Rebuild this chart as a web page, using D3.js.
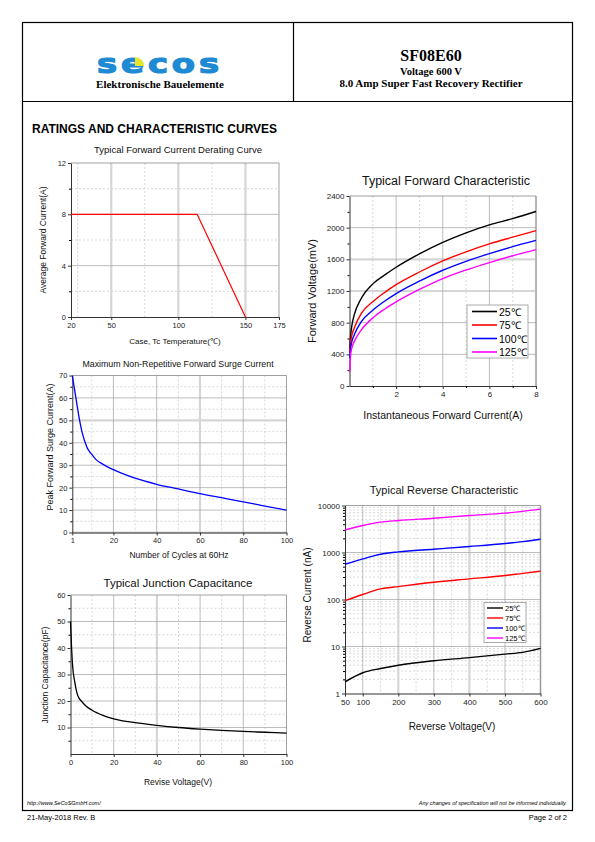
<!DOCTYPE html>
<html><head><meta charset="utf-8">
<script src="https://d3js.org/d3.v7.min.js"></script>
<style>
body{margin:0;background:#fff;}
svg text{font-family:"Liberation Sans",Arial,sans-serif;}
</style></head>
<body><svg id="page" width="595" height="842"></svg>
<script>
// ---------- DATA ----------
// Chart 1: derating curve
const deratingTemp = [20, 114, 150];
const deratingCurrent = [8, 8, 0];
const deratingXTicks = [20, 50, 100, 150, 175];
const deratingYTicks = [0, 4, 8, 12];

// Chart 2: forward characteristic
const fwdCurrent = [0.01, 0.05, 0.1, 0.2, 0.5, 1, 1.5, 2, 3, 4, 5, 6, 7, 8];
const fwdV25  = [470, 640, 760, 895, 1105, 1290, 1400, 1500, 1670, 1815, 1935, 2035, 2115, 2205];
const fwdV75  = [420, 560, 640, 730, 915, 1065, 1180, 1280, 1440, 1580, 1695, 1795, 1880, 1962];
const fwdV100 = [350, 480, 560, 645, 810, 958, 1070, 1168, 1325, 1462, 1575, 1672, 1760, 1840];
const fwdV125 = [180, 400, 480, 560, 706, 860, 970, 1063, 1220, 1357, 1465, 1559, 1645, 1723];
const fwdXTicks = [2, 4, 6, 8];
const fwdYTicks = [0, 400, 800, 1200, 1600, 2000, 2400];
const tempLabels = ["25\u2103", "75\u2103", "100\u2103", "125\u2103"];
const tempColors = ["#000000", "#ff0000", "#0000ff", "#ff00ff"];

// Chart 3: surge current
const surgeCycles = [1, 2, 3, 4, 5, 6, 7, 8, 9, 10, 12, 15, 20, 30, 40, 50, 60, 70, 80, 90, 100];
const surgeCurrent = [70, 64, 58, 52, 47, 43, 40, 37.5, 36, 34.8, 32.5, 30.5, 28, 24.2, 21.5, 19.4, 17.3, 15.5, 13.7, 11.8, 10];
const surgeXTicks = [1, 20, 40, 60, 80, 100];
const surgeYTicks = [0, 10, 20, 30, 40, 50, 60, 70];

// Chart 4: junction capacitance
const capVoltage = [0, 0.5, 1, 2, 3, 4, 5, 7, 10, 15, 20, 30, 40, 50, 60, 70, 80, 90, 100];
const capValue = [50, 40, 33, 27, 23, 21, 20, 18.2, 16.5, 14.6, 13.3, 11.8, 10.8, 10, 9.4, 8.9, 8.5, 8.2, 7.9];
const capXTicks = [0, 20, 40, 60, 80, 100];
const capYTicks = [10, 20, 30, 40, 50, 60];

// Chart 5: reverse characteristic
const revVoltage = [50, 100, 150, 200, 300, 400, 500, 550, 600];
const rev25  = [1.77, 2.76, 3.4, 4.0, 4.97, 5.8, 6.9, 7.5, 9.1];
const rev75  = [95, 128, 168, 188, 233, 274, 323, 360, 399];
const rev100 = [563, 731, 920, 1031, 1175, 1341, 1550, 1700, 1919];
const rev125 = [3040, 3760, 4427, 4790, 5370, 6130, 6880, 7500, 8380];
const revXTicks = [50, 100, 200, 300, 400, 500, 600];
const revYTicks = [1, 10, 100, 1000, 10000];

// ---------- PAGE ----------
const svg = d3.select("#page");
const frame = svg.append("g");
frame.append("rect").attr("x", 22.5).attr("y", 22.5).attr("width", 550).attr("height", 788)
  .attr("fill", "none").attr("stroke", "#000").attr("stroke-width", 1.2);
frame.append("line").attr("x1", 22.5).attr("x2", 572.5).attr("y1", 101.5).attr("y2", 101.5).attr("stroke", "#000").attr("stroke-width", 1.2);
frame.append("line").attr("x1", 293.5).attr("x2", 293.5).attr("y1", 22.5).attr("y2", 101.5).attr("stroke", "#000").attr("stroke-width", 1.2);

// logo
const logo = svg.append("g");
logo.append("text").attr("x", 0).attr("y", 0).attr("text-anchor", "middle")
  .attr("transform", "translate(160,73) scale(1.3,1)")
  .style("font-family", "'DejaVu Sans',sans-serif").style("font-weight", "bold")
  .style("font-size", "26px").style("letter-spacing", "3px")
  .attr("fill", "#1f8ad4").attr("stroke", "#1f8ad4").attr("stroke-width", 1.2).text("secos");
logo.append("path").attr("d", "M135,66 L135,57 A9,9 0 0 1 144,66 Z").attr("fill", "#e6e62a");
logo.append("text").attr("x", 160).attr("y", 88).attr("text-anchor", "middle")
  .style("font-family", "'Liberation Serif',serif").style("font-weight", "bold").style("font-size", "11px")
  .text("Elektronische Bauelemente");

const serif = "'Liberation Serif','Times New Roman',serif";
svg.append("text").attr("x", 431).attr("y", 61).attr("text-anchor", "middle").style("font-family", serif)
  .style("font-weight", "bold").style("font-size", "16px").text("SF08E60");
svg.append("text").attr("x", 431).attr("y", 75).attr("text-anchor", "middle").style("font-family", serif)
  .style("font-weight", "bold").style("font-size", "10.5px").text("Voltage 600 V");
svg.append("text").attr("x", 431).attr("y", 87).attr("text-anchor", "middle").style("font-family", serif)
  .style("font-weight", "bold").style("font-size", "11px").text("8.0 Amp Super Fast Recovery Rectifier");

svg.append("text").attr("x", 32).attr("y", 133).style("font-weight", "bold").style("font-size", "12px")
  .text("RATINGS AND CHARACTERISTIC CURVES");

// footer
svg.append("text").attr("x", 27).attr("y", 805).style("font-style", "italic").style("font-size", "5.5px").text("http://www.SeCoSGmbH.com/");
svg.append("text").attr("x", 567).attr("y", 805).attr("text-anchor", "end").style("font-style", "italic").style("font-size", "5.5px")
  .text("Any changes of specification will not be informed individually.");
svg.append("text").attr("x", 27).attr("y", 820).style("font-size", "7.5px").text("21-May-2018 Rev. B");
svg.append("text").attr("x", 567).attr("y", 820).attr("text-anchor", "end").style("font-size", "7.5px").text("Page  2  of  2");

// ---------- CHART HELPER ----------
function chart(c) {
  const g = svg.append("g");
  const x = c.x, y = c.y;
  const [L, R] = x.range(), [B, T] = y.range();
  (c.xMinor || []).forEach(v => g.append("line").attr("x1", x(v)).attr("x2", x(v)).attr("y1", T).attr("y2", B)
    .attr("stroke", "#c8c8c8").attr("stroke-width", 0.7).attr("stroke-dasharray", "2,2"));
  (c.yMinor || []).forEach(v => g.append("line").attr("x1", L).attr("x2", R).attr("y1", y(v)).attr("y2", y(v))
    .attr("stroke", "#c8c8c8").attr("stroke-width", 0.7).attr("stroke-dasharray", "2,2"));
  (c.xThick || []).forEach(v => g.append("line").attr("x1", x(v)).attr("x2", x(v)).attr("y1", T).attr("y2", B)
    .attr("stroke", "#d6d6d6").attr("stroke-width", 2.2));
  (c.yThick || []).forEach(v => g.append("line").attr("x1", L).attr("x2", R).attr("y1", y(v)).attr("y2", y(v))
    .attr("stroke", "#d6d6d6").attr("stroke-width", 2.2));
  (c.xMajor || []).forEach(v => g.append("line").attr("x1", x(v)).attr("x2", x(v)).attr("y1", T).attr("y2", B)
    .attr("stroke", "#a0a0a0").attr("stroke-width", 0.7));
  (c.yMajor || []).forEach(v => g.append("line").attr("x1", L).attr("x2", R).attr("y1", y(v)).attr("y2", y(v))
    .attr("stroke", "#a0a0a0").attr("stroke-width", 0.7));
  g.append("line").attr("x1", L).attr("x2", R).attr("y1", T).attr("y2", T).attr("stroke", "#888").attr("stroke-width", 0.8);
  g.append("line").attr("x1", R).attr("x2", R).attr("y1", T).attr("y2", B).attr("stroke", "#888").attr("stroke-width", 0.8);

  const fmt = c.fmt || (d => d);
  const xa = g.append("g").attr("transform", `translate(0,${B})`)
    .call(d3.axisBottom(x).tickValues(c.xTicks).tickSize(3).tickSizeOuter(0).tickFormat(fmt));
  const ya = g.append("g").attr("transform", `translate(${L},0)`)
    .call(d3.axisLeft(y).tickValues(c.yTicks).tickSize(3).tickSizeOuter(0).tickFormat(fmt));
  if (c.yMinorTicks) g.append("g").attr("transform", `translate(${L},0)`)
    .call(d3.axisLeft(y).tickValues(c.yMinorTicks).tickSize(2).tickFormat("")).select(".domain").remove();
  if (c.xMinorTicks) g.append("g").attr("transform", `translate(0,${B})`)
    .call(d3.axisBottom(x).tickValues(c.xMinorTicks).tickSize(2).tickFormat("")).select(".domain").remove();
  [xa, ya].forEach(a => {
    a.select(".domain").attr("stroke", "#333").attr("stroke-width", 1);
    a.selectAll(".tick line").attr("stroke", "#333");
    a.selectAll("text").style("font-family", "'Liberation Sans',Arial,sans-serif").style("font-size", c.tickSize + "px").attr("fill", "#222");
  });
  xa.selectAll("text").attr("dy", "0.9em").attr("y", 4);
  ya.selectAll("text").attr("x", -5);

  g.append("text").attr("x", c.titleX).attr("y", c.titleY).attr("text-anchor", "middle")
    .style("font-size", c.titleSize + "px").attr("fill", "#111").text(c.title);
  g.append("text").attr("x", c.xLabelX).attr("y", c.xLabelY).attr("text-anchor", "middle")
    .style("font-size", c.labelSize + "px").attr("fill", "#111").text(c.xLabel);
  g.append("text").attr("transform", `translate(${c.yLabelX},${c.yLabelY}) rotate(-90)`).attr("text-anchor", "middle")
    .style("font-size", (c.yLabelSize || c.labelSize) + "px").attr("fill", "#111").text(c.yLabel);

  c.series.forEach(s => {
    const line = d3.line().x(d => x(d[0])).y(d => y(d[1])).curve(s.curve || d3.curveMonotoneX);
    g.append("path").attr("d", line(d3.zip(s.xs, s.ys))).attr("fill", "none")
      .attr("stroke", s.color).attr("stroke-width", s.width || 1.3);
  });
  return g;
}

const range = (a, b, s) => d3.range(a, b + s / 2, s);

// Chart 1
chart({
  x: d3.scaleLinear().domain([20, 175]).range([71, 279]),
  y: d3.scaleLinear().domain([0, 12]).range([317, 163]),
  xTicks: deratingXTicks, yTicks: deratingYTicks,
  xMinor: [25, 75, 125], yMinor: [2, 6, 10],
  xThick: [50, 100, 150], yMajor: [4, 8],
  yMinorTicks: [2, 6, 10],
  tickSize: 7.5, title: "Typical Forward Current Derating Curve", titleX: 178, titleY: 153, titleSize: 9.5,
  xLabel: "Case, Tc Temperature(\u2103)", xLabelX: 175, xLabelY: 344, yLabel: "Average Forward Current(A)",
  yLabelX: 46, yLabelY: 240, labelSize: 8, yLabelSize: 8.5,
  series: [{xs: deratingTemp, ys: deratingCurrent, color: "#ff0000", curve: d3.curveLinear, width: 1.2}]
});

// Chart 2
const c2 = chart({
  x: d3.scaleLinear().domain([0, 8]).range([349.5, 536]),
  y: d3.scaleLinear().domain([0, 2400]).range([386, 196]),
  xTicks: fwdXTicks, yTicks: fwdYTicks,
  xMinor: [1, 3, 5, 7], yMinor: [],
  xMajor: [2, 4, 6], yMajor: [400, 800, 2000], yThick: [1200, 1600], xThick: [8],
  yMinorTicks: range(200, 2200, 400), xMinorTicks: [1, 3, 5, 7],
  tickSize: 8, title: "Typical Forward Characteristic", titleX: 446, titleY: 185, titleSize: 12.5,
  xLabel: "Instantaneous Forward Current(A)", xLabelX: 443, xLabelY: 419, yLabel: "Forward Voltage(mV)",
  yLabelX: 316, yLabelY: 291, labelSize: 10.5, yLabelSize: 11,
  series: [fwdV25, fwdV75, fwdV100, fwdV125].map((ys, i) => ({xs: fwdCurrent, ys, color: tempColors[i], width: 1.4}))
});
{
  const lg = c2.append("g");
  lg.append("rect").attr("x", 467).attr("y", 305).attr("width", 61).attr("height", 53).attr("fill", "#fff").attr("stroke", "#888").attr("stroke-width", 0.7);
  tempLabels.forEach((t, i) => {
    const yy = 311.5 + i * 13.5;
    lg.append("line").attr("x1", 472).attr("x2", 497).attr("y1", yy).attr("y2", yy).attr("stroke", tempColors[i]).attr("stroke-width", 1.6);
    lg.append("text").attr("x", 499).attr("y", yy + 4).style("font-size", "10.5px").text(t);
  });
}

// Chart 3
chart({
  x: d3.scaleLinear().domain([1, 100]).range([72.3, 286.5]),
  y: d3.scaleLinear().domain([0, 70]).range([532.5, 375.5]),
  xTicks: surgeXTicks, yTicks: surgeYTicks,
  xMinor: [10, 30, 50, 70, 90], yMinor: range(5, 65, 10),
  xMajor: [20, 40, 80], xThick: [60], yMajor: [10, 20, 30, 40, 60], yThick: [50, 0],
  yMinorTicks: range(5, 65, 10),
  tickSize: 7.5, title: "Maximum Non-Repetitive Forward Surge Current", titleX: 178, titleY: 367, titleSize: 8.8,
  xLabel: "Number of Cycles at 60Hz", xLabelX: 179, xLabelY: 558, yLabel: "Peak Forward Surge Current(A)",
  yLabelX: 53, yLabelY: 447, labelSize: 8.5, yLabelSize: 9,
  series: [{xs: surgeCycles, ys: surgeCurrent, color: "#0000ff", width: 1.3}]
});

// Chart 4
chart({
  x: d3.scaleLinear().domain([0, 100]).range([70.5, 286.5]),
  y: d3.scaleLinear().domain([0, 60]).range([754, 595]),
  xTicks: capXTicks, yTicks: capYTicks,
  xMinor: [10, 30, 50, 70, 90], yMinor: range(5, 55, 10),
  xMajor: [20, 60, 80], xThick: [40], yMajor: [10, 20, 30, 40, 50],
  yMinorTicks: range(5, 55, 10),
  tickSize: 7.5, title: "Typical Junction Capacitance", titleX: 178, titleY: 587, titleSize: 11.5,
  xLabel: "Revise Voltage(V)", xLabelX: 178, xLabelY: 785, yLabel: "Junction Capacitance(pF)",
  yLabelX: 48, yLabelY: 675, labelSize: 8.5,
  series: [{xs: capVoltage, ys: capValue, color: "#000000", width: 1.3}]
});

// Chart 5
const revMinorY = [];
[1, 10, 100, 1000].forEach(d => { for (let k = 2; k <= 9; k++) revMinorY.push(d * k); });
const c5 = chart({
  x: d3.scaleLinear().domain([50, 600]).range([345, 540.5]),
  y: d3.scaleLog().domain([1, 10000]).range([693.5, 505.5]),
  xTicks: revXTicks, yTicks: revYTicks, fmt: d => d,
  xMinor: [150, 250, 350, 450, 550], yMinor: revMinorY,
  xMajor: [100, 300, 500], xThick: [200, 400, 600], yMajor: [10, 100, 1000],
  yMinorTicks: revMinorY,
  tickSize: 8, title: "Typical Reverse Characteristic", titleX: 444, titleY: 494, titleSize: 11,
  xLabel: "Reverse Voltage(V)", xLabelX: 452, xLabelY: 730, yLabel: "Reverse Current (nA)",
  yLabelX: 311, yLabelY: 595, labelSize: 10,
  series: [rev25, rev75, rev100, rev125].map((ys, i) => ({xs: revVoltage, ys, color: tempColors[i], width: 1.4}))
});
{
  const lg = c5.append("g");
  lg.append("rect").attr("x", 484).attr("y", 602.5).attr("width", 42).attr("height", 40).attr("fill", "#fff").attr("stroke", "#888").attr("stroke-width", 0.7);
  tempLabels.forEach((t, i) => {
    const yy = 608 + i * 10;
    lg.append("line").attr("x1", 487).attr("x2", 503).attr("y1", yy).attr("y2", yy).attr("stroke", tempColors[i]).attr("stroke-width", 1.4);
    lg.append("text").attr("x", 505).attr("y", yy + 3).style("font-size", "7.5px").text(t);
  });
}
</script></body></html>
